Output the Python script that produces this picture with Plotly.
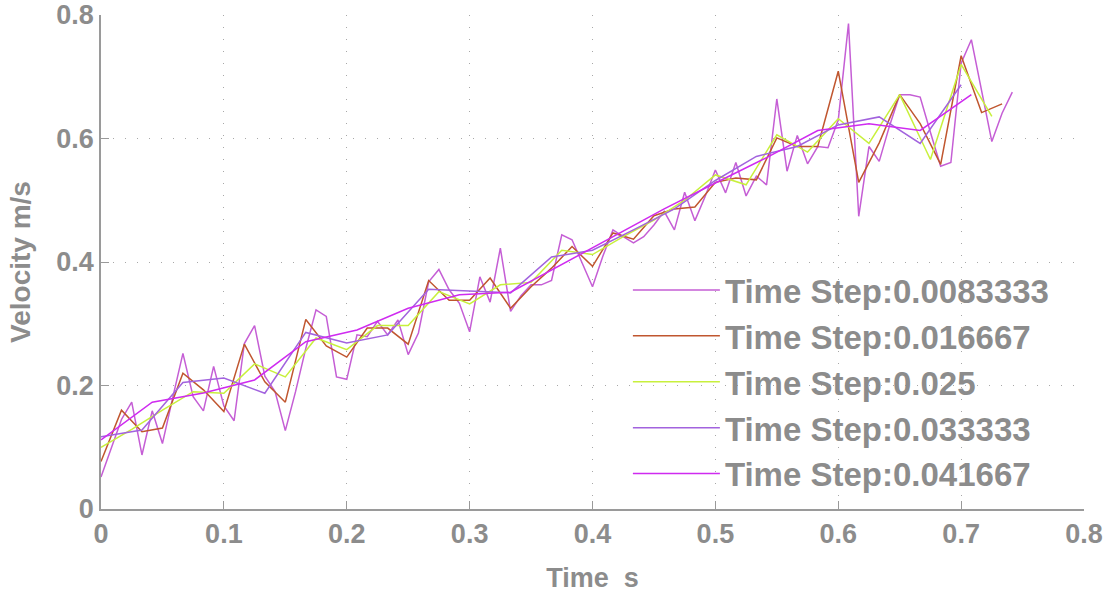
import numpy as np
import plotly.graph_objects as go

# ---- data ----
names = ["Time Step:0.0083333", "Time Step:0.016667", "Time Step:0.025",
         "Time Step:0.033333", "Time Step:0.041667"]
steps = [0.0083333, 0.016667, 0.025, 0.033333, 0.041667]

v1 = [0.052, 0.10, 0.145, 0.173, 0.0875, 0.159, 0.106, 0.18, 0.252, 0.182,
      0.159, 0.231, 0.167, 0.143, 0.268, 0.297, 0.215, 0.19, 0.127, 0.19,
      0.26, 0.3225, 0.312, 0.214, 0.21, 0.282, 0.279, 0.304, 0.282, 0.306,
      0.25, 0.285, 0.368, 0.388, 0.355, 0.333, 0.287, 0.376, 0.335, 0.4225,
      0.32, 0.345, 0.363, 0.363, 0.37, 0.444, 0.436, 0.398, 0.36, 0.409,
      0.452, 0.441, 0.431, 0.441, 0.46, 0.482, 0.452, 0.513, 0.467, 0.506,
      0.549, 0.512, 0.561, 0.507, 0.539, 0.525, 0.664, 0.547, 0.605, 0.559,
      0.587, 0.585, 0.63, 0.786, 0.474, 0.587, 0.563, 0.62, 0.671, 0.671,
      0.667, 0.61, 0.555, 0.561, 0.722, 0.76, 0.679, 0.595, 0.641, 0.675]
v2 = [0.077, 0.16, 0.125, 0.131, 0.22, 0.193, 0.158, 0.267, 0.206, 0.173,
      0.307, 0.264, 0.246, 0.293, 0.293, 0.267, 0.37, 0.338, 0.338, 0.374,
      0.325, 0.36, 0.39, 0.425, 0.393, 0.447, 0.437, 0.475, 0.486, 0.489,
      0.529, 0.536, 0.533, 0.601, 0.587, 0.587, 0.709, 0.529, 0.593, 0.671,
      0.624, 0.558, 0.734, 0.642, 0.656]
v3 = [0.1, 0.129, 0.16, 0.19, 0.1875, 0.235, 0.214, 0.277, 0.258, 0.297,
      0.297, 0.352, 0.332, 0.363, 0.367, 0.419, 0.412, 0.441, 0.468, 0.5,
      0.541, 0.525, 0.606, 0.578, 0.632, 0.592, 0.671, 0.566, 0.72, 0.636]
v4 = [0.117, 0.128, 0.205, 0.212, 0.1875, 0.286, 0.269, 0.282, 0.356, 0.353,
      0.35, 0.408, 0.419, 0.452, 0.486, 0.532, 0.571, 0.587, 0.622, 0.635,
      0.592, 0.687]
v5 = [0.112, 0.173, 0.188, 0.209, 0.271, 0.29, 0.325, 0.347, 0.351, 0.396,
      0.441, 0.486, 0.528, 0.569, 0.613, 0.624, 0.613, 0.671]
values = [v1, v2, v3, v4, v5]

colors = ["#c55ed5", "#c0562f", "#c8f03c", "#a263de", "#cf2bf0"]

x_ticks = [0, 0.1, 0.2, 0.3, 0.4, 0.5, 0.6, 0.7, 0.8]
y_ticks = [0, 0.2, 0.4, 0.6, 0.8]

FONT = "Liberation Sans"
GRAY = "#8c8c8c"

fig = go.Figure()
for name, dt, vals, col in zip(names, steps, values, colors):
    t = [i * dt for i in range(len(vals))]
    fig.add_trace(go.Scatter(x=t, y=vals, mode="lines", name="<b>" + name + "</b>",
                             line=dict(color=col, width=1.5)))

axis_common = dict(
    showline=True, linecolor="#9a9a9a", linewidth=1.5,
    ticks="inside", ticklen=8, tickcolor="#9a9a9a", tickwidth=1,
    showgrid=True, gridcolor="#a8a8a8", gridwidth=1, griddash="1px,11px",
    zeroline=False, mirror=False, automargin=False,
    tickfont=dict(family=FONT, size=27, color=GRAY),
)

fig.update_layout(
    width=1111, height=594,
    margin=dict(l=101, r=27, t=15, b=85),
    paper_bgcolor="white", plot_bgcolor="white",
    font=dict(family=FONT, color=GRAY),
    xaxis=dict(range=[0, 0.8], tickvals=x_ticks,
               ticktext=["<b>%g</b>" % v for v in x_ticks],
               title=dict(text="<b>Time\u00a0\u00a0s</b>",
                          font=dict(family=FONT, size=27, color=GRAY),
                          standoff=20),
               **axis_common),
    yaxis=dict(range=[0, 0.8], tickvals=y_ticks,
               ticktext=["<b>%g</b>" % v for v in y_ticks],
               title=dict(text="<b>Velocity m/s</b>",
                          font=dict(family=FONT, size=28, color=GRAY),
                          standoff=18),
               **axis_common),
    legend=dict(x=0.536, y=0.5, xanchor="left", yanchor="top",
                bgcolor="rgba(0,0,0,0)", borderwidth=0,
                itemwidth=87,
                font=dict(family=FONT, size=33, color=GRAY)),
    showlegend=True,
)

fig.write_html("out.html")
